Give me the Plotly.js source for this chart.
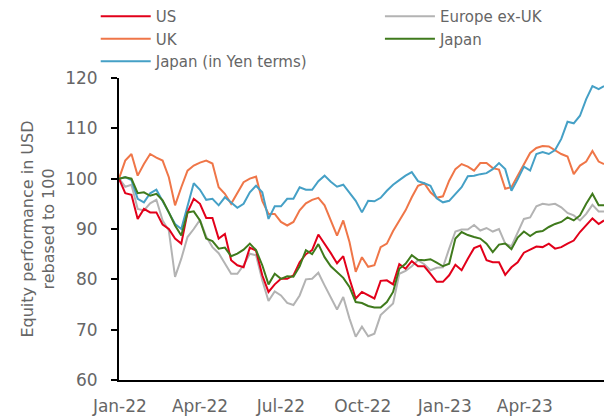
<!DOCTYPE html>
<html>
<head>
<meta charset="utf-8">
<script src="https://cdn.plot.ly/plotly-3.0.1.min.js"></script>
<style>
html,body{margin:0;padding:0;background:#fff;}
#chart{width:605px;height:420px;}
</style>
</head>
<body>
<div id="chart"></div>
<script>
const dates = [
'2021-12-31','2022-01-07','2022-01-14','2022-01-21','2022-01-28','2022-02-04','2022-02-11','2022-02-18','2022-02-25',
'2022-03-04','2022-03-11','2022-03-18','2022-03-25','2022-04-01','2022-04-08','2022-04-15','2022-04-22','2022-04-29',
'2022-05-06','2022-05-13','2022-05-20','2022-05-27','2022-06-03','2022-06-10','2022-06-17','2022-06-24','2022-07-01',
'2022-07-08','2022-07-15','2022-07-22','2022-07-29','2022-08-05','2022-08-12','2022-08-19','2022-08-26','2022-09-02',
'2022-09-09','2022-09-16','2022-09-23','2022-09-30','2022-10-07','2022-10-14','2022-10-21','2022-10-28','2022-11-04',
'2022-11-11','2022-11-18','2022-11-25','2022-12-02','2022-12-09','2022-12-16','2022-12-23','2022-12-30','2023-01-06',
'2023-01-13','2023-01-20','2023-01-27','2023-02-03','2023-02-10','2023-02-17','2023-02-24','2023-03-03','2023-03-10',
'2023-03-17','2023-03-24','2023-03-31','2023-04-07','2023-04-14','2023-04-21','2023-04-28','2023-05-05','2023-05-12',
'2023-05-19','2023-05-26','2023-06-02','2023-06-09','2023-06-16','2023-06-23','2023-06-29'
];

const us = [100,97.1,96.8,92.0,94.0,93.3,93.3,90.9,90.0,88.1,87.1,93.3,96.0,95.0,92.2,92.2,88.1,89.0,83.8,82.8,82.4,86.3,85.7,80.8,77.5,79.0,80.1,80.1,80.8,83.4,85.0,85.8,88.9,87.1,85.2,83.2,84.6,80.1,76.2,77.5,76.8,76.2,79.7,79.8,79.0,83.0,82.1,83.6,82.6,82.6,81.1,79.5,79.5,80.8,82.9,81.8,84.1,86.2,86.7,83.8,83.4,83.4,80.9,82.4,83.4,85.3,85.9,86.5,86.4,87.1,86.1,86.4,87.1,87.7,89.4,90.8,92.1,91.0,91.7];

const uk = [100,103.6,104.9,100.6,102.9,104.9,104.2,103.6,100.3,94.7,98.3,101.6,102.6,103.2,103.6,103.0,98.3,97.0,95.0,97.3,99.3,100.0,100.4,95.6,93.0,93.0,91.4,90.7,91.4,93.7,95.1,95.8,96.2,94.7,91.7,88.7,91.7,87.4,81.5,84.4,82.5,82.8,86.4,87.1,89.6,91.7,93.7,96.3,98.6,99.1,97.3,96.2,96.5,99.6,101.9,102.9,102.4,101.6,103.1,103.1,102.1,101.8,98.0,98.3,100.6,102.7,105.1,106.1,106.5,106.4,105.7,104.9,104.4,100.9,102.6,103.4,105.5,103.4,102.9];

const japanYen = [100,100.3,99.7,96.0,95.3,97.1,97.8,95.6,93.3,91.0,90.0,94.6,99.1,97.8,95.8,96.0,94.7,96.3,95.3,94.2,95.0,97.3,98.6,97.3,92.0,94.5,94.5,96.0,96.0,98.3,97.8,97.8,99.5,100.6,99.4,98.4,98.8,97.3,95.6,93.3,95.6,95.5,96.2,97.6,98.8,99.7,100.6,101.3,99.5,99.1,98.6,96.1,95.3,95.6,97.0,98.3,100.5,100.6,100.9,101.1,101.9,103.1,101.9,97.6,99.9,102.4,101.6,104.9,105.3,104.9,105.7,107.9,111.3,111.0,112.5,115.8,118.4,117.8,118.4];

const europeExUK = [100,98.4,98.8,94.0,93.7,95.1,95.8,91.7,89.7,80.5,84.1,88.4,90.0,91.8,88.5,86.4,85.2,83.1,81.1,81.1,82.8,85.1,84.8,79.8,75.7,77.6,76.8,75.3,74.9,76.8,80.0,80.1,81.3,78.8,76.5,74.0,76.5,72.2,68.6,70.6,68.7,69.2,72.9,74.0,75.2,81.1,81.7,82.6,83.8,83.0,81.8,82.3,82.4,86.1,89.5,89.9,89.9,90.8,89.7,90.2,89.5,90.0,87.1,86.6,89.2,92.0,92.3,94.5,95.0,94.8,95.0,94.3,93.2,92.7,91.7,93.0,94.8,93.5,93.5];

const japan = [100,100.3,100.0,97.1,97.3,96.6,97.0,95.7,93.3,90.7,88.7,93.3,93.5,91.7,88.1,87.6,86.1,86.3,84.6,85.1,85.9,87.1,85.8,82.8,79.0,81.1,80.1,80.6,80.5,82.6,85.8,85.0,87.0,84.4,82.6,81.5,80.3,78.5,75.5,75.3,74.7,74.4,74.4,75.5,77.5,82.1,83.1,84.8,83.9,83.8,84.0,83.3,82.6,83.1,88.1,89.4,88.8,88.4,88.1,87.1,85.4,86.9,87.1,86.0,88.3,89.5,88.6,89.4,89.6,90.4,91.0,91.4,92.3,91.7,92.7,95.0,97.0,94.7,94.7];

const seriesNames = ['US','UK','Japan (in Yen terms)','Europe ex-UK','Japan'];
const colors = {'US':'#e2001a','Europe ex-UK':'#b3b3b3','UK':'#ef7648','Japan':'#3f7a1c','Japan (in Yen terms)':'#45a0c6'};
const values = {'US':us,'Europe ex-UK':europeExUK,'UK':uk,'Japan':japan,'Japan (in Yen terms)':japanYen};
const legendOf = {'US':'legend','UK':'legend','Japan (in Yen terms)':'legend','Europe ex-UK':'legend2','Japan':'legend2'};
const drawOrder = ['Europe ex-UK','UK','Japan (in Yen terms)','US','Japan'];

const FONT = 'DejaVu Sans, sans-serif';
const GREY = '#666666';

const traces = drawOrder.map(name => ({
  type:'scatter', mode:'lines', name:name,
  x:dates, y:values[name],
  line:{color:colors[name], width:2},
  legend: legendOf[name],
  legendrank: seriesNames.indexOf(name)+1,
  hoverinfo:'skip'
}));

const legendBase = {orientation:'v', yanchor:'top', xanchor:'left', itemwidth:50,
  font:{family:FONT, size:15, color:GREY}, bgcolor:'rgba(0,0,0,0)', traceorder:'normal'};

const layout = {
  width:605, height:420,
  margin:{l:119, r:1, t:77, b:40},
  paper_bgcolor:'#fff', plot_bgcolor:'#fff',
  font:{family:FONT, color:GREY},
  showlegend:true,
  legend:Object.assign({}, legendBase, {x:-0.048, y:1.255}),
  legend2:Object.assign({}, legendBase, {x:0.538, y:1.255}),
  xaxis:{type:'date', range:['2021-12-31','2023-06-29'],
    tickvals:['2022-01-01','2022-04-01','2022-07-01','2022-10-01','2023-01-01','2023-04-01'],
    ticktext:['Jan-22','Apr-22','Jul-22','Oct-22','Jan-23','Apr-23'],
    showgrid:false, zeroline:false, showline:true, linecolor:'#000', linewidth:2,
    ticks:'', ticklabelstandoff:10,
    tickfont:{family:FONT, size:17, color:GREY}},
  yaxis:{range:[60,120], dtick:10, tick0:60,
    showgrid:false, zeroline:false, showline:true, linecolor:'#000', linewidth:2,
    ticks:'outside', ticklen:6, tickwidth:2, tickcolor:'#000', ticklabelstandoff:10,
    tickfont:{family:FONT, size:17, color:GREY},
    title:{text:'Equity performance in USD<br>rebased to 100', font:{family:FONT, size:16, color:GREY}, standoff:7}}
};

Plotly.newPlot('chart', traces, layout, {staticPlot:true, displayModeBar:false});
</script>
</body>
</html>
